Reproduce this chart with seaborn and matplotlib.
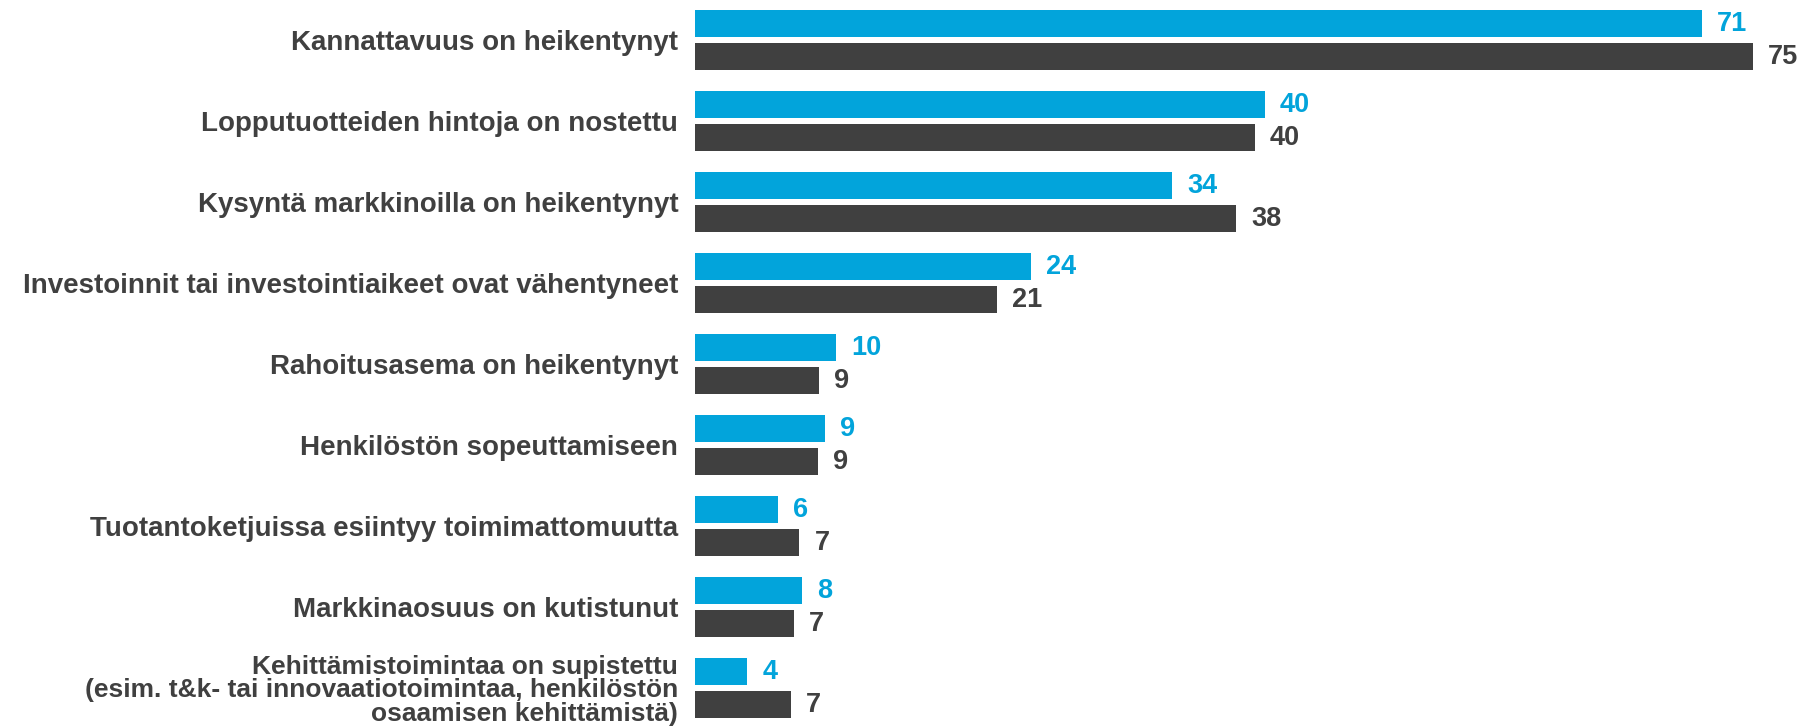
import matplotlib.pyplot as plt
import pandas as pd
import seaborn as sns

# Values (labels shown rounded)
categories = [
    'Kannattavuus on heikentynyt',
    'Lopputuotteiden hintoja on nostettu',
    'Kysyntä markkinoilla on heikentynyt',
    'Investoinnit tai investointiaikeet ovat vähentyneet',
    'Rahoitusasema on heikentynyt',
    'Henkilöstön sopeuttamiseen',
    'Tuotantoketjuissa esiintyy toimimattomuutta',
    'Markkinaosuus on kutistunut',
    'Kehittämistoimintaa on supistettu\n(esim. t&k- tai innovaatiotoimintaa, henkilöstön\nosaamisen kehittämistä)',
]
survey_a = [71.4, 40.4, 33.8, 23.8, 10.0, 9.2, 5.9, 7.6, 3.7]
survey_b = [75.0, 39.7, 38.4, 21.4, 8.8, 8.7, 7.4, 7.0, 6.8]
series_names = ['Kysely A', 'Kysely B']
colors = ['#02A4DB', '#404040']

df = pd.DataFrame({
    'Syy': categories * 2,
    'Osuus': survey_a + survey_b,
    'Sarja': [series_names[0]] * len(survey_a) + [series_names[1]] * len(survey_b),
})

sns.set_theme(style='white')
plt.rcParams['font.family'] = ['Liberation Sans', 'DejaVu Sans']

fig = plt.figure(figsize=(18.09, 7.26), dpi=100)
ax = fig.add_axes([695 / 1809, 0, 1 - 695 / 1809, 1])

sns.barplot(
    data=df, y='Syy', x='Osuus', hue='Sarja', palette=colors, orient='h',
    width=0.815, gap=0.18, saturation=1, errorbar=None, legend=False,
    linewidth=0, ax=ax,
)

for cont, c in zip(ax.containers, colors):
    ax.bar_label(cont, fmt='%.0f', padding=11, color=c, fontsize=19.5, fontweight='bold')

ax.set_xlim(0, 79)
ax.set_ylim(8.469, -0.494)
ax.set_xlabel('')
ax.set_ylabel('')
ax.set_xticks([])
ax.tick_params(axis='y', length=0, pad=12, labelsize=20, labelcolor='#404040')
ylabels = ax.get_yticklabels()
for lbl in ylabels:
    lbl.set_fontweight('bold')
# the long three-line label is set a bit smaller and tighter
ylabels[-1].set_fontsize(19)
ylabels[-1].set_linespacing(0.98)
sns.despine(ax=ax, left=True, bottom=True)

fig.savefig('out.png', dpi=100)
